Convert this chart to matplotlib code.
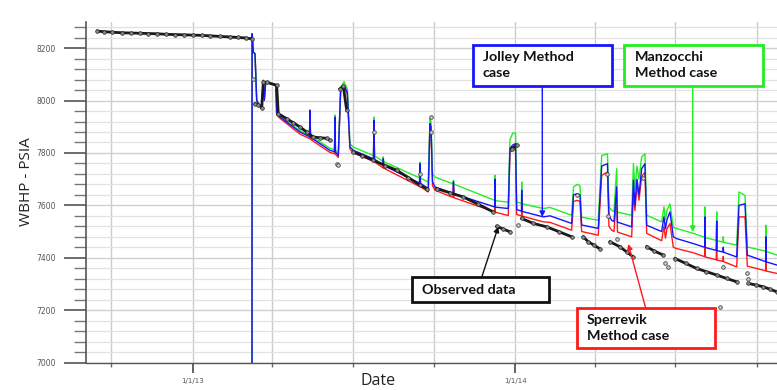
import numpy as np
import matplotlib
matplotlib.use("Agg")
import matplotlib.pyplot as plt
import matplotlib.dates as mdates
from matplotlib.ticker import MultipleLocator, FixedLocator, FixedFormatter, NullFormatter
from matplotlib.patches import Rectangle, FancyArrowPatch

# ---------------- data ----------------
base_date = "2013-01-01"          # day 0 of all day offsets below

# simulated cases: days since base_date, WBHP (psia)
sim_days = [67.1, 67.2, 68.6, 70.5, 72.4, 74.2, 78.1, 79.9, 81.0, 82.6, 93.1, 94.2, 95.0, 98.8,
            121.4, 132.1, 132.7, 133.3, 155.3, 160.4, 161.0, 161.5, 164.7, 167.4, 171.2, 174.9,
            177.9, 181.7, 204.5, 205.1, 205.7, 215.3, 215.6, 216.1, 256.6, 257.1, 257.7, 266.5,
            268.4, 269.6, 271.3, 274.1, 294.5, 295.0, 295.6, 341.6, 342.0, 342.3, 357.0, 358.9,
            362.0, 365.2, 366.5, 372.0, 372.2, 372.5, 396.6, 404.2, 428.7, 430.8, 435.1, 438.1,
            440.0, 458.8, 462.7, 469.2, 470.9, 474.0, 476.6, 479.6, 480.5, 496.6, 498.6, 500.3,
            502.6, 504.9, 507.9, 511.6, 513.6, 530.5, 533.1, 534.8, 536.5, 539.9, 543.7, 547.5,
            566.3, 579.2, 579.5, 579.9, 592.3, 592.8, 593.1, 599.9, 600.2, 600.6, 615.4, 618.0,
            624.8, 627.4, 648.2, 648.5, 648.9, 661.0]

jolley = [6500, 8255, 8185, 8179, 8001, 7988, 7973, 8077, 8001, 8070, 8062, 8051, 7950, 7937,
          7880, 7862, 7962, 7860, 7810, 7805, 7937, 7803, 7791, 8045, 8058, 8032,
          7823, 7810, 7778, 7924, 7776, 7753, 7778, 7752, 7685, 7759, 7684, 7664,
          7912, 7900, 7690, 7670, 7645, 7690, 7644, 7594, 7700, 7593, 7588, 7817,
          7830, 7836, 7584, 7578, 7658, 7577, 7556, 7560, 7531, 7640, 7645, 7640,
          7525, 7512, 7750, 7759, 7560, 7543, 7538, 7670, 7536, 7518, 7696, 7600,
          7700, 7640, 7740, 7759, 7524, 7500, 7556, 7510, 7545, 7575, 7480, 7473,
          7454, 7440, 7556, 7439, 7428, 7540, 7427, 7422, 7440, 7421, 7403, 7600,
          7606, 7410, 7385, 7480, 7384, 7372]

manzocchi = [6500, 8255, 8185, 8179, 8001, 7988, 7973, 8077, 8001, 8070, 8062, 8051, 7952, 7940,
             7885, 7867, 7965, 7865, 7818, 7813, 7945, 7810, 7798, 8050, 8072, 8045,
             7835, 7822, 7790, 7937, 7789, 7768, 7785, 7767, 7705, 7765, 7704, 7689,
             7931, 7920, 7720, 7708, 7682, 7696, 7681, 7619, 7715, 7618, 7612, 7850,
             7876, 7876, 7613, 7607, 7689, 7606, 7588, 7592, 7562, 7670, 7680, 7675,
             7555, 7543, 7790, 7797, 7595, 7581, 7576, 7740, 7574, 7562, 7759, 7660,
             7750, 7700, 7785, 7797, 7562, 7537, 7594, 7545, 7580, 7606, 7515, 7512,
             7493, 7478, 7594, 7477, 7466, 7575, 7465, 7460, 7480, 7459, 7448, 7651,
             7638, 7441, 7425, 7524, 7424, 7410]

sperrevik = [6500, 8255, 8185, 8179, 8001, 7988, 7973, 8077, 8001, 8070, 8062, 8051, 7946, 7932,
             7872, 7855, 7960, 7852, 7802, 7797, 7930, 7795, 7783, 8040, 8052, 8025,
             7815, 7800, 7768, 7915, 7766, 7743, 7770, 7742, 7672, 7750, 7671, 7651,
             7900, 7890, 7675, 7658, 7630, 7680, 7629, 7575, 7690, 7574, 7561, 7804,
             7810, 7817, 7565, 7560, 7640, 7559, 7537, 7535, 7505, 7615, 7619, 7615,
             7500, 7486, 7715, 7727, 7520, 7505, 7500, 7650, 7498, 7480, 7650, 7580,
             7680, 7620, 7710, 7727, 7493, 7465, 7520, 7475, 7510, 7531, 7440, 7435,
             7419, 7404, 7540, 7403, 7392, 7530, 7391, 7386, 7405, 7385, 7365, 7556,
             7556, 7368, 7350, 7470, 7349, 7340]

# observed gauge data (NaN = gap in record)
obs_days = [-107.9, -100, -91.6, -80, -70, -60, -50, -40, -30, -20, -10, 0, 10, 20, 31, 42,
            51, 60, 66.7, np.nan,
            70.5, 74.2, 78.1, 79.9, 83.7, 95.0, 96.8, 106.3, 114, 121.4, 129, 136.4, 144,
            151.6, 155.3, np.nan,
            166.6, 170.4, 174.2, np.nan,
            181.7, 192, 204.3, 218, 230.8, 244, 257.1, 264.7, np.nan,
            276.0, 291, 306.1, 323, 340.0, np.nan,
            343.9, 351.0, 358.9, np.nan,
            360.8, 366.5, np.nan,
            372.2, 385.3, 400.5, 414, 428.7, np.nan,
            441.8, 447.5, 454, 460.7, np.nan,
            472.0, 483.3, 491, 498.4, np.nan,
            513.6, 522, 532.4, np.nan,
            545.6, 558, 570.1, 581, 592.7, 604, 615.4, np.nan,
            628.5, 637, 645.5, 653, 660.6]
obs_vals = [8265, 8263, 8261, 8259, 8258, 8257, 8256, 8255, 8253, 8252, 8251, 8250, 8249,
            8247, 8245, 8243, 8241, 8239, 8236, np.nan,
            7988, 7985, 7973, 8070, 8070, 8058, 7950, 7931, 7915, 7899, 7880, 7861, 7858,
            7856, 7849, np.nan,
            8045, 8055, 7963, np.nan,
            7804, 7790, 7772, 7752, 7734, 7706, 7677, 7664, np.nan,
            7664, 7648, 7632, 7604, 7575, np.nan,
            7520, 7510, 7499, np.nan,
            7817, 7829, np.nan,
            7550, 7531, 7518, 7500, 7480, np.nan,
            7480, 7461, 7448, 7434, np.nan,
            7461, 7442, 7422, 7403, np.nan,
            7442, 7426, 7410, np.nan,
            7397, 7378, 7359, 7347, 7334, 7321, 7308, np.nan,
            7302, 7296, 7289, 7280, 7270]

# scattered individual observations
obs_pt_days = [68.6, 162.9, 164.4, 205.1, 257.1, 269.2, 270.1, 368.3, 434.7, 468.3, 469.8,
               479.6, 509.7, 534.0, 537.8, 596.6, 600.2, 626.7, 628.1]
obs_pt_vals = [8083, 7759, 7755, 7880, 7720, 7937, 7880, 7524, 7640, 7721, 7560,
               7473, 7703, 7380, 7365, 7213, 7365, 7340, 7320]

year_dates = ["2013-01-01", "2014-01-01"]
year_labels = ["1/1/13", "1/1/14"]
quarter_dates = ["2012-10-01", "2013-04-01", "2013-07-01", "2013-10-01",
                 "2014-04-01", "2014-07-01", "2014-10-01"]
x_range_days = [-120.7, 661.0]
y_range = [7000, 8300]

# ---------------- plotting ----------------
W, H = 777, 390
fig = plt.figure(figsize=(W / 100, H / 100), dpi=100)
fig.patch.set_facecolor("white")

def fx(px):
    return px / W

def fy(py):
    return 1 - py / H

ax = fig.add_axes([fx(86), fy(362.5), 1 - fx(86), fy(22) - fy(362.5)])

t0 = mdates.date2num(np.datetime64(base_date))
to_x = lambda d: t0 + np.asarray(d, dtype=float)

ax.plot(to_x(sim_days), sperrevik, color="#ff1a1a", lw=1.0, zorder=3)
ax.plot(to_x(sim_days), manzocchi, color="#22ee22", lw=1.0, zorder=3)
ax.plot(to_x(sim_days), jolley, color="#1515ff", lw=1.0, zorder=4)
ax.plot(to_x(obs_days), obs_vals, color="#1a1a1a", lw=2.0, marker="o", ms=2.6,
        mfc="#8a8a8a", mec="#222222", mew=0.5, zorder=5)
ax.plot(to_x(obs_pt_days), obs_pt_vals, ls="none", marker="o", ms=2.6,
        mfc="#d0d0d0", mec="#444444", mew=0.6, zorder=5)

ax.set_xlim(to_x(x_range_days))
ax.set_ylim(*y_range)

# ticks
ax.yaxis.set_major_locator(MultipleLocator(200))
ax.yaxis.set_minor_locator(MultipleLocator(40))
ax.xaxis.set_major_locator(FixedLocator([mdates.date2num(np.datetime64(d)) for d in year_dates]))
ax.xaxis.set_major_formatter(FixedFormatter(year_labels))
ax.xaxis.set_minor_locator(FixedLocator([mdates.date2num(np.datetime64(d)) for d in quarter_dates]))
ax.xaxis.set_minor_formatter(NullFormatter())

ax.tick_params(axis="y", which="major", length=16, width=1.2, color="#555555",
               labelsize=5.5, labelcolor="#555555", pad=6)
ax.tick_params(axis="y", which="minor", length=9, width=1.0, color="#777777")
ax.tick_params(axis="x", which="major", length=7, width=1.3, color="#555555",
               labelsize=5, labelcolor="#555555", pad=4)
ax.tick_params(axis="x", which="minor", length=3, width=1.0, color="#666666")

ax.grid(True, which="minor", axis="y", color="#e2e2e2", lw=0.9, zorder=0)
ax.grid(True, which="major", axis="y", color="#d0d0d0", lw=1.0, zorder=0)
ax.grid(True, which="both", axis="x", color="#cccccc", lw=1.0, zorder=0)
ax.set_axisbelow(True)

for s in ("top", "right"):
    ax.spines[s].set_visible(False)
ax.spines["left"].set_color("#555555")
ax.spines["left"].set_linewidth(1.2)
ax.spines["bottom"].set_color("#555555")
ax.spines["bottom"].set_linewidth(1.0)

fig.text(fx(27), fy(182), "WBHP - PSIA", rotation=90, ha="center", va="center",
         fontsize=11, family="Open Sans", color="#222222")
fig.text(fx(378), fy(381), "Date", ha="center", va="center",
         fontsize=11.5, family="Open Sans", color="#222222")

# annotation boxes
def box(x0, y0, x1, y1, color, lines, tx, tys, arrow_from, arrow_to):
    rect = Rectangle((fx(x0), fy(y1)), fx(x1) - fx(x0), fy(y0) - fy(y1),
                     transform=fig.transFigure, facecolor="white", edgecolor=color,
                     lw=2.0, zorder=10)
    fig.add_artist(rect)
    for line, ty in zip(lines, tys):
        fig.text(fx(tx), fy(ty), line, ha="left", va="center", fontsize=10.3,
                 fontweight="bold", family="Lato", color="#111111", zorder=11)
    fig.add_artist(FancyArrowPatch(
        (fx(arrow_from[0]), fy(arrow_from[1])), (fx(arrow_to[0]), fy(arrow_to[1])),
        transform=fig.transFigure, arrowstyle="-|>", mutation_scale=8,
        color=color, lw=1.0, zorder=9, shrinkA=0, shrinkB=0))

box(473.3, 45, 611.7, 86, "#1515ff", ["Jolley Method", "case"], 482.7, [56.7, 73.3],
    (542.3, 86), (542.3, 217))
box(624.3, 45, 763.3, 86, "#22ee22", ["Manzocchi", "Method case"], 635, [56.7, 73.3],
    (692.7, 86), (692.7, 232))
box(411.7, 277.3, 549.3, 301.7, "#111111", ["Observed data"], 421.7, [290],
    (481.7, 277.3), (498.3, 226.7))
box(576.7, 308.3, 715, 348.3, "#ff1a1a", ["Sperrevik", "Method case"], 586.7, [320, 336],
    (645.7, 308.3), (628.3, 244))

fig.savefig("out.png", dpi=100, facecolor="white")
